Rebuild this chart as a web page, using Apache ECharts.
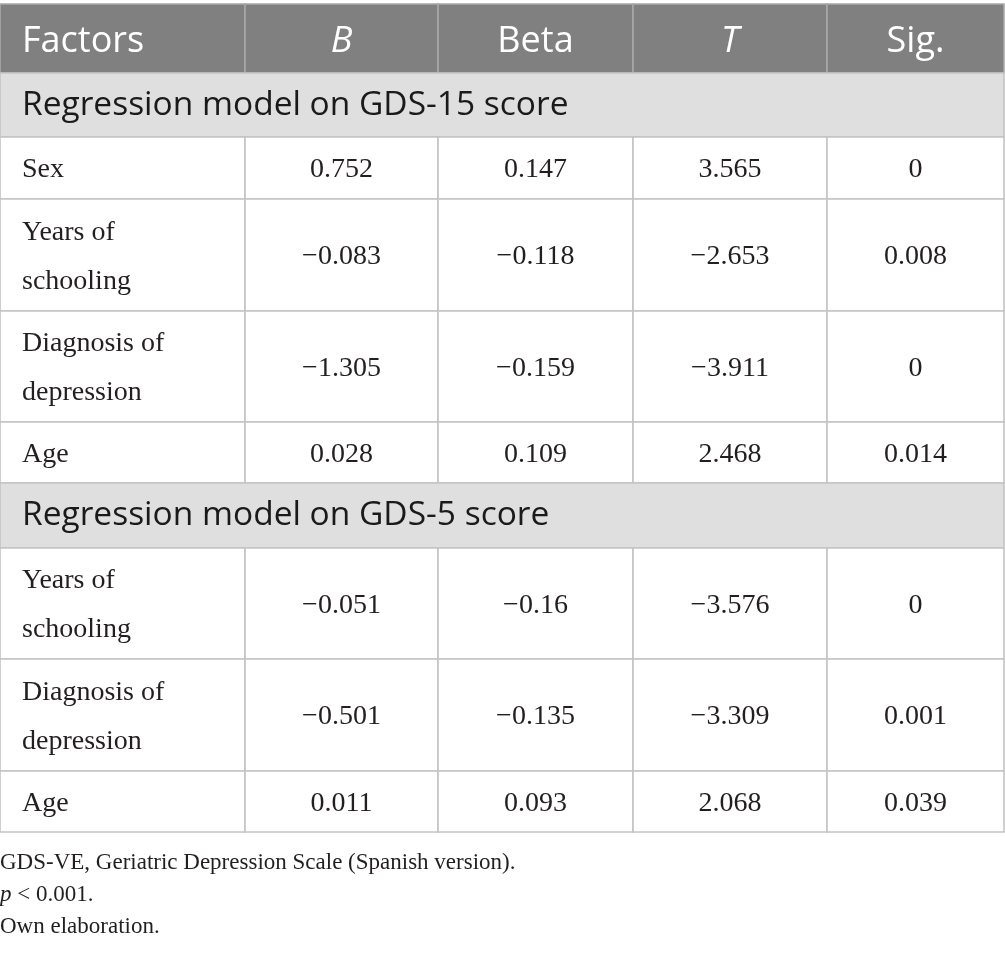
<!DOCTYPE html>
<html>
<head>
<meta charset="utf-8">
<script src="https://cdn.jsdelivr.net/npm/echarts@6/dist/echarts.min.js"></script>
<style>
  html, body { margin: 0; padding: 0; background: #fff; }
  #chart { width: 1005px; height: 960px; }
</style>
</head>
<body>
<div id="chart"></div>
<script>
// table content
const columns = ['Factors', 'B', 'Beta', 'T', 'Sig.'];
const italicCols = ['B', 'T'];
const sections = ['Regression model on GDS-15 score', 'Regression model on GDS-5 score'];

const factors15 = ['Sex', 'Years of\nschooling', 'Diagnosis of\ndepression', 'Age'];
const b15 = [0.752, -0.083, -1.305, 0.028];
const beta15 = [0.147, -0.118, -0.159, 0.109];
const t15 = [3.565, -2.653, -3.911, 2.468];
const sig15 = [0, 0.008, 0, 0.014];

const factors5 = ['Years of\nschooling', 'Diagnosis of\ndepression', 'Age'];
const b5 = [-0.051, -0.501, 0.011];
const beta5 = [-0.16, -0.135, 0.093];
const t5 = [-3.576, -3.309, 2.068];
const sig5 = [0, 0.001, 0.039];

const notes = ['GDS-VE, Geriatric Depression Scale (Spanish version).', '{i|p} < 0.001.', 'Own elaboration.'];

// layout (cell edges in axis units)
const colEdges = [0, 245, 438, 633, 827, 1004];
const rowEdges = [4, 73, 137, 199, 311, 422, 483, 548, 659, 771, 832];

const fmt = (v) => String(v).replace('-', '\u2212');

// build cell list: [col, row, span], kind, text
const cells = [];
columns.forEach((c, i) => cells.push({ value: [i, 0, 1], kind: 'head', text: c }));
let row = 1;
const addBlock = (title, factors, b, beta, t, sig) => {
  cells.push({ value: [0, row, 5], kind: 'section', text: title });
  row++;
  factors.forEach((f, i) => {
    cells.push({ value: [0, row, 1], kind: 'label', text: f });
    [b, beta, t, sig].forEach((arr, j) => {
      cells.push({ value: [j + 1, row, 1], kind: 'num', text: fmt(arr[i]) });
    });
    row++;
  });
};
addBlock(sections[0], factors15, b15, beta15, t15, sig15);
addBlock(sections[1], factors5, b5, beta5, t5, sig5);

const styles = {
  head: { fill: '#808080', stroke: '#a8a8a8', font: 'Open Sans', size: 36, color: '#ffffff', dy: 3 },
  section: { fill: '#e0dfe0', stroke: '#c4c4c4', font: 'Open Sans', size: 33.5, color: '#1a1a1a', dy: 0 },
  label: { fill: '#ffffff', stroke: '#c4c4c4', font: 'Liberation Serif', size: 28, color: '#231f20', dy: 2 },
  num: { fill: '#ffffff', stroke: '#c4c4c4', font: 'Liberation Serif', size: 28, color: '#231f20', dy: 2 }
};

const renderCell = (params, api) => {
  const c = api.value(0), r = api.value(1), span = api.value(2);
  const cell = cells[params.dataIndex];
  const s = styles[cell.kind];
  const p0 = api.coord([colEdges[c], rowEdges[r]]);
  const p1 = api.coord([colEdges[c + span], rowEdges[r + 1]]);
  const leftAlign = c === 0;
  const italic = cell.kind === 'head' && italicCols.includes(cell.text);
  return {
    type: 'group',
    children: [
      {
        type: 'rect',
        shape: { x: p0[0], y: p0[1], width: p1[0] - p0[0], height: p1[1] - p0[1] },
        style: { fill: s.fill, stroke: s.stroke, lineWidth: 1.6 }
      },
      {
        type: 'text',
        x: leftAlign ? p0[0] + 22 : (p0[0] + p1[0]) / 2,
        y: (p0[1] + p1[1]) / 2 + s.dy,
        style: {
          text: cell.text,
          fill: s.color,
          fontFamily: s.font,
          fontSize: s.size,
          fontStyle: italic ? 'italic' : 'normal',
          lineHeight: 49,
          align: leftAlign ? 'left' : 'center',
          verticalAlign: 'middle'
        }
      }
    ]
  };
};

const chart = echarts.init(document.getElementById('chart'));
chart.setOption({
  animation: false,
  grid: { left: 0, top: 4, width: 1004, height: 828 },
  xAxis: { type: 'value', min: 0, max: 1004, show: false },
  yAxis: { type: 'value', min: 4, max: 832, inverse: true, show: false },
  graphic: notes.map((n, i) => ({
    type: 'text',
    left: 0,
    top: 851 + i * 32,
    style: {
      text: n,
      fill: '#231f20',
      font: '23px "Liberation Serif"',
      rich: { i: { fontStyle: 'italic', fontFamily: 'Liberation Serif', fontSize: 23, fill: '#231f20' } }
    }
  })),
  series: [{
    type: 'custom',
    renderItem: renderCell,
    data: cells.map((c) => c.value),
    silent: true
  }]
});
</script>
</body>
</html>
